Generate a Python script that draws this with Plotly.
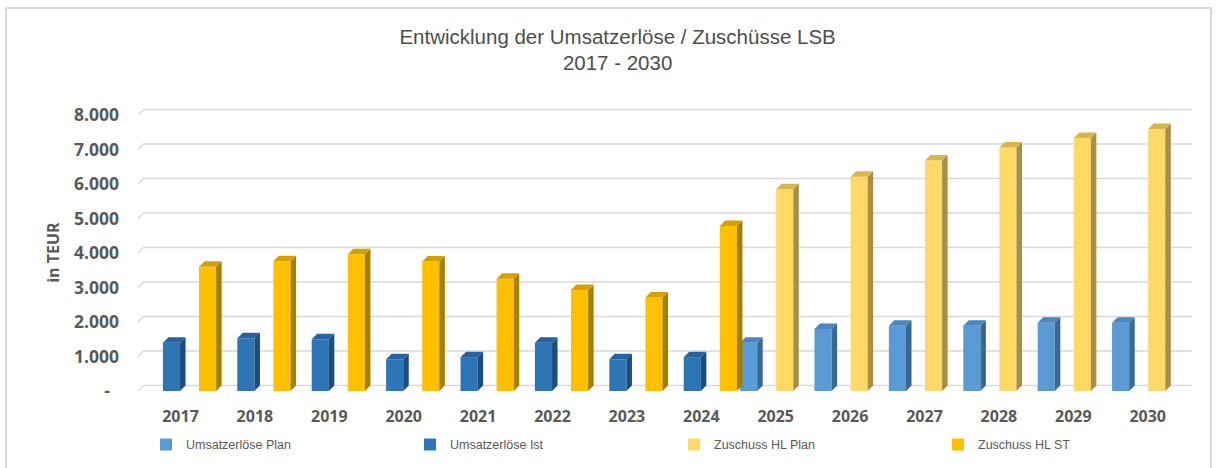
import plotly.graph_objects as go

# ---------------- data ----------------
years = ["2017", "2018", "2019", "2020", "2021", "2022", "2023",
         "2024", "2025", "2026", "2027", "2028", "2029", "2030"]
umsatz_plan = [None, None, None, None, None, None, None, None,
               1400, 1800, 1890, 1890, 1980, 1980]
umsatz_ist = [1400, 1530, 1500, 920, 980, 1400, 920, 980,
              None, None, None, None, None, None]
zuschuss_plan = [None, None, None, None, None, None, None, None,
                 5850, 6210, 6680, 7060, 7330, 7590]
zuschuss_st = [3600, 3760, 3960, 3750, 3250, 2930, 2710, 4780,
               None, None, None, None, None, None]
y_tickvals = [0, 1000, 2000, 3000, 4000, 5000, 6000, 7000, 8000]
y_ticktext = ["-\u00a0\u00a0", "1.000", "2.000", "3.000", "4.000",
              "5.000", "6.000", "7.000", "8.000"]

series = [
    ("Umsatzerlöse Plan", umsatz_plan, "#5B9BD5", "#4A85BD", "#3A6894"),
    ("Umsatzerlöse Ist", umsatz_ist, "#2E75B6", "#2862A0", "#1D4C7E"),
    ("Zuschuss HL Plan", zuschuss_plan, "#FFD966", "#D6B64F", "#A88F45"),
    ("Zuschuss HL ST", zuschuss_st, "#FFC000", "#D4A200", "#A67E00"),
]

# ---------------- geometry (style) ----------------
W, H = 1217, 468
px_left, px_right = 138, 1192
px_zero, px_per_1000 = 391.2, 34.53
cat0_px, cat_px = 180.5, 74.4
x_range = [(px_left - cat0_px) / cat_px, (px_right - cat0_px) / cat_px]
y_top = (px_zero - 108.0) / px_per_1000 * 1000
margin_t = px_zero - (y_top / 1000) * px_per_1000
plot_h = px_zero - margin_t
plot_w = px_right - px_left
bargap, groupgap = 0.03, 0.05
slot = (1 - bargap) / len(series)
bar_w = slot * (1 - groupgap)
dx = 5.5 / cat_px              # depth, x units
dy = 5.5 / px_per_1000 * 1000  # depth, y units

text_col = "#595959"
fig = go.Figure()
xs_idx = list(range(len(years)))

face_traces = []
for i, (name, vals, c_front, c_top, c_side) in enumerate(series):
    off = -(1 - bargap) / 2 + i * slot + (slot - bar_w) / 2
    fig.add_trace(go.Bar(
        x=xs_idx, y=vals, name=name, offset=off, width=bar_w,
        marker=dict(color=c_front, line=dict(width=0)),
        hoverinfo="skip"))
    sx, sy, tx, ty = [], [], [], []
    for k, v in enumerate(vals):
        if v is None:
            continue
        xl = k + off
        xr = xl + bar_w
        sx += [xr, xr + dx, xr + dx, xr, xr, None]
        sy += [0, dy, v + dy, v, 0, None]
        tx += [xl, xl + dx, xr + dx, xr, xl, None]
        ty += [v, v + dy, v + dy, v, v, None]
    face_traces.append(go.Scatter(x=sx, y=sy, mode="lines", fill="toself",
                                  fillcolor=c_side, line=dict(width=0, color=c_side),
                                  showlegend=False, hoverinfo="skip"))
    face_traces.append(go.Scatter(x=tx, y=ty, mode="lines", fill="toself",
                                  fillcolor=c_top, line=dict(width=0, color=c_top),
                                  showlegend=False, hoverinfo="skip"))
for t in face_traces:
    fig.add_trace(t)

# back-wall gridlines
shapes = []
for v in y_tickvals:
    shapes.append(dict(
        type="path", xref="x", yref="y", layer="below",
        path=f"M {x_range[0]},{v} L {x_range[0] + dx},{v + dy} L {x_range[1]},{v + dy}",
        line=dict(color="#D9D9D9", width=1.5)))
# outer chart border
shapes.append(dict(
    type="rect", xref="paper", yref="paper", layer="below",
    x0=(6 - px_left) / plot_w, x1=(1211 - px_left) / plot_w,
    y0=(px_zero - 475) / plot_h, y1=(px_zero - 8) / plot_h,
    line=dict(color="#D9D9D9", width=2)))

fig.update_layout(
    template="none",
    width=W, height=H,
    paper_bgcolor="white", plot_bgcolor="rgba(0,0,0,0)",
    barmode="overlay",
    margin=dict(l=px_left, r=W - px_right, t=margin_t, b=H - px_zero, pad=0,
                autoexpand=False),
    title=dict(
        text="Entwicklung der Umsatzerlöse / Zuschüsse LSB<br>2017 - 2030",
        font=dict(family="Liberation Sans, Arial", size=20.5, color="#4D4D4D"),
        x=617.6 / W, xanchor="center", xref="container",
        y=1 - 43.5 / H, yanchor="top", yref="container"),
    xaxis=dict(range=x_range, tickmode="array", tickvals=xs_idx, ticktext=years,
               showgrid=False, zeroline=False, showline=False, ticks="",
               automargin=False, ticklabelstandoff=14,
               tickfont=dict(family="Open Sans", size=16, color=text_col, weight="bold")),
    yaxis=dict(range=[0, y_top], tickmode="array", tickvals=y_tickvals, ticktext=y_ticktext,
               showgrid=False, zeroline=False, showline=False, ticks="",
               automargin=False, ticklabelstandoff=18,
               tickfont=dict(family="Open Sans", size=17.5, color=text_col, weight="bold")),
    shapes=shapes,
    legend=dict(orientation="h", xref="paper", yref="paper",
                x=(146 - px_left) / plot_w, xanchor="left",
                y=(px_zero - 445) / plot_h, yanchor="middle",
                entrywidth=219, entrywidthmode="pixels",
                traceorder="normal", itemclick=False,
                font=dict(family="Liberation Sans, Arial", size=12.5, color=text_col),
                bgcolor="rgba(0,0,0,0)"),
    annotations=[dict(text="in TEUR", textangle=-90, xref="paper", yref="paper",
                      x=0, y=0.49, xanchor="center", yanchor="middle",
                      xshift=-(px_left - 53.5), showarrow=False,
                      font=dict(family="Open Sans", size=16, color=text_col, weight="bold"))],
    showlegend=True,
)

fig.write_html("out.html",
               config={"displayModeBar": False},
               post_script="document.body.style.margin='0';document.body.style.overflow='hidden';")
